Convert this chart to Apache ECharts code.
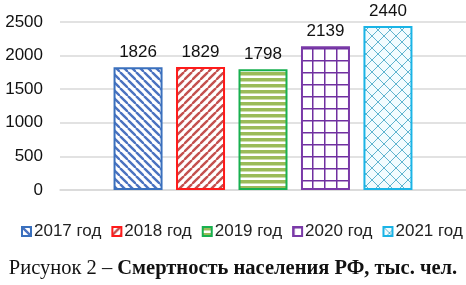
<!DOCTYPE html>
<html>
<head>
<meta charset="utf-8">
<script src="https://cdn.jsdelivr.net/npm/echarts@6/dist/echarts.min.js"></script>
<style>
  html, body { margin: 0; padding: 0; background: #fff; }
  #chart { width: 466px; height: 285px; }
</style>
</head>
<body>
<div id="chart"></div>
<script>
// data
const categories = ["Смертность"];
const seriesNames = ["2017 год", "2018 год", "2019 год", "2020 год", "2021 год"];
const values = [1826, 1829, 1798, 2139, 2440];
const yTicks = [0, 500, 1000, 1500, 2000, 2500];
const caption = "Рисунок 2 – ";
const captionBold = "Смертность населения РФ, тыс. чел.";

// pattern tiles drawn on small canvases
function makeTile(size, bg, draw) {
    const c = document.createElement("canvas");
    c.width = size;
    c.height = size;
    const ctx = c.getContext("2d");
    ctx.fillStyle = bg;
    ctx.fillRect(0, 0, size, size);
    draw(ctx, size);
    return { image: c, repeat: "repeat" };
}

function diag(ctx, s, dir) {
    // lines across the tile and its neighbours so they join up
    for (let k = -1; k <= 1; k++) {
        ctx.beginPath();
        if (dir > 0) {
            ctx.moveTo(k * s, 0);
            ctx.lineTo(k * s + s, s);
        } else {
            ctx.moveTo(k * s + s, 0);
            ctx.lineTo(k * s, s);
        }
        ctx.stroke();
    }
}

const patterns = [
    makeTile(8, "#ffffff", (ctx, s) => {
        ctx.strokeStyle = "#4a72c0";
        ctx.lineWidth = 2.4;
        diag(ctx, s, 1);
    }),
    makeTile(8, "#ffffff", (ctx, s) => {
        ctx.strokeStyle = "#c4504e";
        ctx.lineWidth = 2.4;
        diag(ctx, s, -1);
    }),
    makeTile(6, "#ffffff", (ctx, s) => {
        ctx.fillStyle = "#9bbb59";
        ctx.fillRect(0, 0, s, 3.5);
    }),
    makeTile(12, "#ffffff", (ctx, s) => {
        ctx.fillStyle = "#7030a0";
        ctx.fillRect(0, 0, s, 1.5);
        ctx.fillRect(0, 0, 1.5, s);
    }),
    makeTile(12, "#f2fbfe", (ctx, s) => {
        ctx.strokeStyle = "#5fb4cf";
        ctx.lineWidth = 1;
        diag(ctx, s, 1);
        diag(ctx, s, -1);
    })
];
const borders = ["#3a70bd", "#ff1a1a", "#18b050", "#7a3aa8", "#1ab4e6"];

const chart = echarts.init(document.getElementById("chart"));

const series = seriesNames.map((name, i) => ({
    name: name,
    type: "bar",
    barWidth: 49,
    barGap: "27.5%",
    data: [values[i]],
    itemStyle: {
        color: patterns[i],
        borderColor: borders[i],
        borderWidth: 2
    },
    label: {
        show: true,
        position: "top",
        distance: 6,
        color: "#111",
        fontSize: 17,
        fontFamily: "Liberation Sans"
    }
}));

chart.setOption({
    animation: false,
    title: {
        text: "{n|" + caption + "}{b|" + captionBold + "}",
        left: "center",
        top: 253,
        textStyle: {
            fontWeight: "normal",
            rich: {
                n: { fontFamily: "Liberation Serif", fontSize: 20.5, fontWeight: "normal", color: "#111" },
                b: { fontFamily: "Liberation Serif", fontSize: 20.5, fontWeight: "bold", color: "#111" }
            }
        }
    },
    legend: {
        data: seriesNames,
        left: 21,
        right: 0,
        top: 223,
        icon: "rect",
        itemWidth: 9,
        itemHeight: 9,
        itemGap: 10,
        padding: 0,
        textStyle: { fontFamily: "Liberation Sans", fontSize: 17, color: "#222", padding: [0, 0, 0, -2] }
    },
    grid: { left: 60, right: 0, top: 22, bottom: 95 },
    xAxis: {
        type: "category",
        data: categories,
        axisLine: { lineStyle: { color: "#d9d9d9", width: 1.5 } },
        axisTick: { show: false },
        axisLabel: { show: false }
    },
    yAxis: {
        type: "value",
        min: yTicks[0],
        max: yTicks[yTicks.length - 1],
        interval: 500,
        axisLine: { show: false },
        axisTick: { show: false },
        splitLine: { lineStyle: { color: "#d9d9d9", width: 1.5 } },
        axisLabel: {
            fontFamily: "Liberation Sans",
            fontSize: 17,
            color: "#111",
            margin: 17,
            formatter: (v) => String(v)
        }
    },
    series: series
});
</script>
</body>
</html>
